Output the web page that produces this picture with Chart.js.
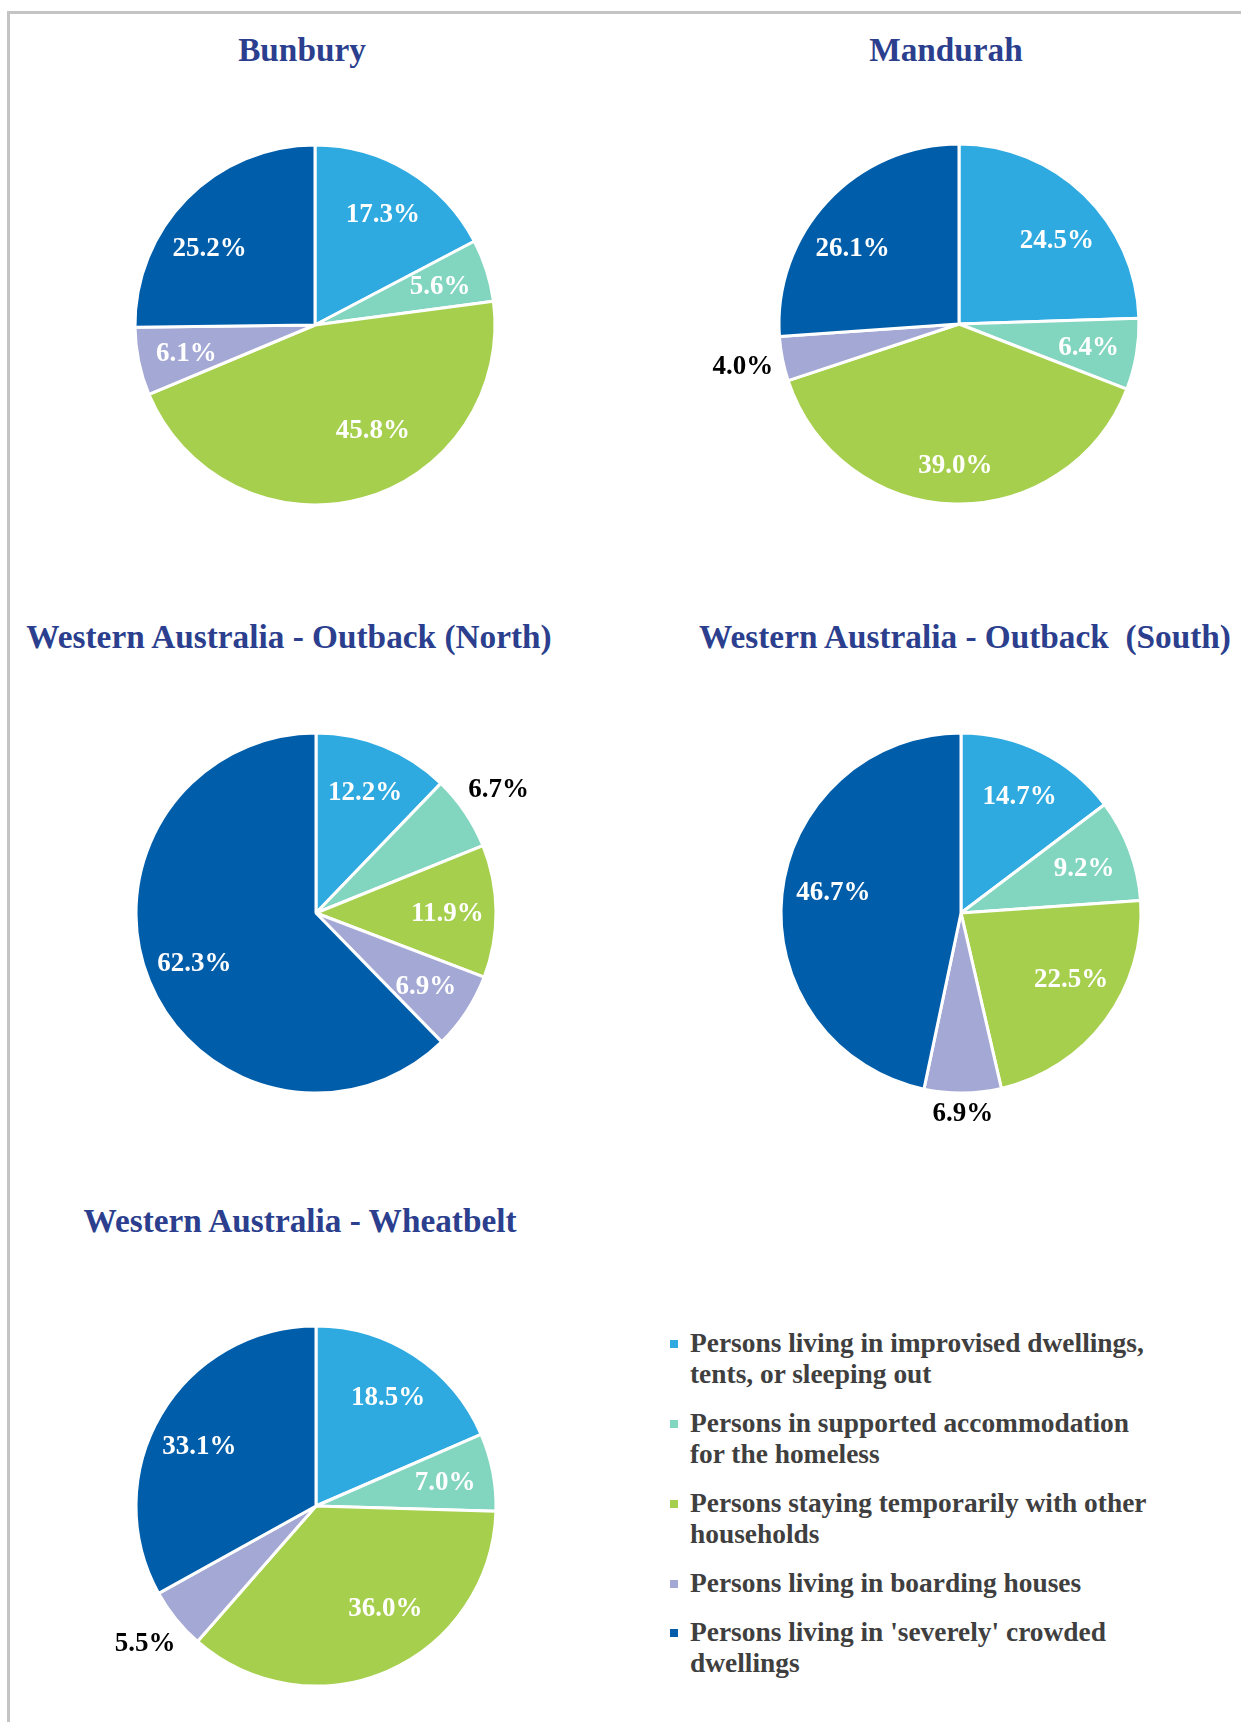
<!DOCTYPE html>
<html>
<head>
<meta charset="utf-8">
<script src="https://cdn.jsdelivr.net/npm/chart.js@4.4.1/dist/chart.umd.min.js"></script>
<style>
  html, body {
    margin: 0;
    padding: 0;
    background: #fff;
  }
  body {
    position: relative;
    width: 1241px;
    height: 1722px;
    overflow: hidden;
    font-family: "Liberation Serif", "Times New Roman", serif;
  }
  .frame {
    position: absolute;
    left: 7px;
    top: 11px;
    width: 1300px;
    height: 1800px;
    border-left: 3px solid #c4c4c4;
    border-top: 3px solid #c4c4c4;
  }
  .pie-title {
    position: absolute;
    transform: translate(-50%, -50%);
    white-space: pre;
    line-height: 1;
    font-size: 33.3px;
    font-weight: bold;
    color: #2b3f8e;
  }
  canvas {
    position: absolute;
  }
  #legend {
    position: absolute;
    left: 668px;
    top: 1328px;
    width: 500px;
    color: #3f3f3f;
    font-size: 27.4px;
    font-weight: bold;
    line-height: 30.7px;
  }
  .item {
    position: relative;
    padding-left: 22px;
    margin-bottom: 18.6px;
    width: 472px;
  }
  .item .box {
    position: absolute;
    left: 2px;
    top: 12px;
    width: 8px;
    height: 8px;
  }
</style>
</head>
<body>
<div class="frame"></div>
<div id="legend"></div>

<script>
// Homelessness by operational group - SA4 regions of Western Australia

const categories = [
    'Persons living in improvised dwellings, tents, or sleeping out',
    'Persons in supported accommodation for the homeless',
    'Persons staying temporarily with other households',
    'Persons living in boarding houses',
    "Persons living in 'severely' crowded dwellings"
];

const sliceColors = ['#2eaae1', '#82d5bf', '#a7cf4e', '#a4a8d4', '#005daa'];

// share of homeless persons (%), same order as categories
const bunbury = [17.3, 5.6, 45.8, 6.1, 25.2];
const mandurah = [24.5, 6.4, 39.0, 4.0, 26.1];
const outbackNorth = [12.2, 6.7, 11.9, 6.9, 62.3];
const outbackSouth = [14.7, 9.2, 22.5, 6.9, 46.7];
const wheatbelt = [18.5, 7.0, 36.0, 5.5, 33.1];

const regionTitles = [
    'Bunbury',
    'Mandurah',
    'Western Australia - Outback (North)',
    'Western Australia - Outback  (South)',
    'Western Australia - Wheatbelt'
];

// where each pie sits on the page, plus label nudges (degrees, radius factor)
const panels = [
    { values: bunbury, title: regionTitles[0], tx: 302, ty: 50, cx: 315, cy: 325,
      outside: [], nudge: { 2: [-14, 0.66], 4: [-8, 0.73] } },
    { values: mandurah, title: regionTitles[1], tx: 946, ty: 50, cx: 959, cy: 324,
      outside: [3], nudge: { 0: [5, 0.72], 2: [0, 0.78], 4: [-7, 0.73] } },
    { values: outbackNorth, title: regionTitles[2], tx: 289, ty: 637, cx: 316, cy: 913,
      outside: [1], nudge: {} },
    { values: outbackSouth, title: regionTitles[3], tx: 965, ty: 637, cx: 961, cy: 913,
      outside: [3], nudge: { 2: [-6, 0.71], 4: [4, 0.72] } },
    { values: wheatbelt, title: regionTitles[4], tx: 300, ty: 1221, cx: 316, cy: 1506,
      outside: [3], nudge: { 2: [-11, 0.68], 4: [-3, 0.73] } }
];

const CANVAS_W = 560;
const CANVAS_H = 480;
const AREA = 363; // 2 * radius + border

// Percent labels on the slices (white inside, black outside)
const sliceLabels = {
    id: 'sliceLabels',
    afterDatasetsDraw(chart, args, opts) {
        const ctx = chart.ctx;
        const meta = chart.getDatasetMeta(0);
        const values = chart.data.datasets[0].data;
        const outside = opts.outside || [];
        const nudge = opts.nudge || {};
        ctx.save();
        ctx.font = 'bold 27px "Liberation Serif", "Times New Roman", serif';
        ctx.textAlign = 'center';
        ctx.textBaseline = 'middle';
        meta.data.forEach(function(arc, i) {
            const p = arc.getProps(['x', 'y', 'startAngle', 'endAngle', 'outerRadius'], true);
            let mid = (p.startAngle + p.endAngle) / 2;
            let k = 0.73;
            if (nudge[i]) {
                mid += nudge[i][0] * Math.PI / 180;
                k = nudge[i][1];
            }
            const text = values[i].toFixed(1) + '%';
            const dx = Math.cos(mid);
            const dy = Math.sin(mid);
            let r;
            const isOut = outside.includes(i);
            if (isOut) {
                const hw = ctx.measureText(text).width / 2;
                r = p.outerRadius + 8 + Math.abs(dx) * hw + Math.abs(dy) * 13;
            } else {
                r = p.outerRadius * k;
            }
            ctx.fillStyle = isOut ? '#000000' : '#ffffff';
            ctx.fillText(text, p.x + dx * r, p.y + dy * r + (isOut ? 0 : 2));
        });
        ctx.restore();
    }
};

function makePanel(panel, idx) {
    // title
    const t = document.createElement('div');
    t.className = 'pie-title';
    t.textContent = panel.title;
    t.style.left = panel.tx + 'px';
    t.style.top = panel.ty + 'px';
    document.body.appendChild(t);

    // pie canvas centred on the pie
    const canvas = document.createElement('canvas');
    canvas.id = 'pie' + idx;
    canvas.width = CANVAS_W;
    canvas.height = CANVAS_H;
    canvas.style.left = (panel.cx - CANVAS_W / 2) + 'px';
    canvas.style.top = (panel.cy - CANVAS_H / 2) + 'px';
    document.body.appendChild(canvas);

    const padX = (CANVAS_W - AREA) / 2;
    const padY = (CANVAS_H - AREA) / 2;

    new Chart(canvas.getContext('2d'), {
        type: 'pie',
        data: {
            labels: categories,
            datasets: [{
                data: panel.values,
                backgroundColor: sliceColors,
                borderColor: '#ffffff',
                borderWidth: 3
            }]
        },
        options: {
            responsive: false,
            animation: false,
            layout: {
                padding: { left: padX, right: padX, top: padY, bottom: padY }
            },
            plugins: {
                legend: { display: false },
                tooltip: { enabled: false },
                sliceLabels: { outside: panel.outside, nudge: panel.nudge }
            }
        },
        plugins: [sliceLabels]
    });
}

panels.forEach(makePanel);

// Legend (shared by all five pies)
const legend = document.getElementById('legend');
categories.forEach(function(name, i) {
    const item = document.createElement('div');
    item.className = 'item';
    const box = document.createElement('span');
    box.className = 'box';
    box.style.background = sliceColors[i];
    item.appendChild(box);
    item.appendChild(document.createTextNode(name));
    legend.appendChild(item);
});
</script>
</body>
</html>
